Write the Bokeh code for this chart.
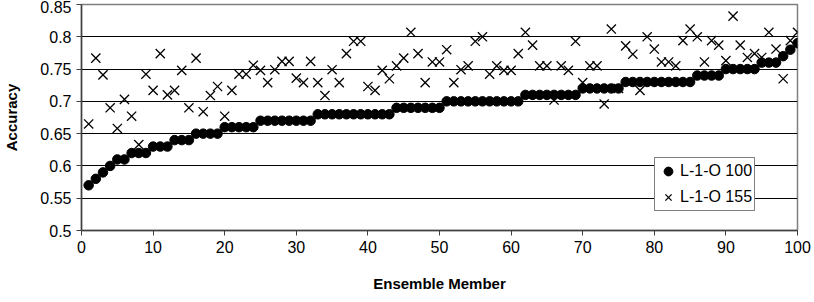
from bokeh.plotting import figure
from bokeh.models import Range1d, FixedTicker, Legend, LegendItem
from bokeh.embed import file_html
from bokeh.resources import INLINE

members = [i for i in range(1, 101)]

l1o_100 = [0.57, 0.58, 0.59, 0.60, 0.61, 0.61, 0.62, 0.62, 0.62, 0.63,
           0.63, 0.63, 0.64, 0.64, 0.64, 0.65, 0.65, 0.65, 0.65, 0.66,
           0.66, 0.66, 0.66, 0.66, 0.67, 0.67, 0.67, 0.67, 0.67, 0.67,
           0.67, 0.67, 0.68, 0.68, 0.68, 0.68, 0.68, 0.68, 0.68, 0.68,
           0.68, 0.68, 0.68, 0.69, 0.69, 0.69, 0.69, 0.69, 0.69, 0.69,
           0.70, 0.70, 0.70, 0.70, 0.70, 0.70, 0.70, 0.70, 0.70, 0.70,
           0.70, 0.71, 0.71, 0.71, 0.71, 0.71, 0.71, 0.71, 0.71, 0.72,
           0.72, 0.72, 0.72, 0.72, 0.72, 0.73, 0.73, 0.73, 0.73, 0.73,
           0.73, 0.73, 0.73, 0.73, 0.73, 0.74, 0.74, 0.74, 0.74, 0.75,
           0.75, 0.75, 0.75, 0.75, 0.76, 0.76, 0.76, 0.77, 0.78, 0.79]

l1o_155 = [0.665, 0.767, 0.741, 0.690, 0.658, 0.703, 0.677, 0.633, 0.742, 0.717,
           0.774, 0.710, 0.717, 0.748, 0.690, 0.767, 0.684, 0.709, 0.723, 0.677,
           0.717, 0.742, 0.742, 0.756, 0.748, 0.729, 0.749, 0.762, 0.762, 0.736,
           0.729, 0.762, 0.729, 0.709, 0.749, 0.729, 0.774, 0.793, 0.793, 0.723,
           0.717, 0.748, 0.735, 0.755, 0.767, 0.807, 0.774, 0.729, 0.761, 0.761,
           0.780, 0.729, 0.749, 0.755, 0.793, 0.800, 0.742, 0.755, 0.748, 0.748,
           0.774, 0.807, 0.787, 0.755, 0.755, 0.702, 0.755, 0.748, 0.793, 0.729,
           0.755, 0.755, 0.696, 0.812, 0.720, 0.786, 0.773, 0.717, 0.800, 0.781,
           0.761, 0.761, 0.755, 0.794, 0.812, 0.800, 0.761, 0.794, 0.787, 0.763,
           0.832, 0.787, 0.768, 0.774, 0.768, 0.807, 0.781, 0.735, 0.794, 0.807]

x_ticks = [0, 10, 20, 30, 40, 50, 60, 70, 80, 90, 100]
y_ticks = [0.5, 0.55, 0.6, 0.65, 0.7, 0.75, 0.8, 0.85]
y_tick_labels = ["0.5", "0.55", "0.6", "0.65", "0.7", "0.75", "0.8", "0.85"]

series_names = ["L-1-O 100", "L-1-O 155"]

FONT = "Liberation Sans"

p = figure(width=814, height=302, output_backend="svg", toolbar_location=None,
           x_range=Range1d(0, 100), y_range=Range1d(0.5, 0.85),
           min_border_left=80, min_border_right=17, min_border_top=4, min_border_bottom=72)

p.outline_line_color = "#808080"
p.outline_line_width = 1.5
p.background_fill_color = "white"
p.border_fill_color = "white"

p.xgrid.visible = False
p.ygrid.grid_line_color = "black"
p.ygrid.grid_line_width = 1
p.ygrid.ticker = FixedTicker(ticks=y_ticks)

p.xaxis.ticker = FixedTicker(ticks=x_ticks)
p.yaxis.ticker = FixedTicker(ticks=y_ticks)
p.yaxis.major_label_overrides = {t: s for t, s in zip(y_ticks, y_tick_labels)}
p.xaxis.major_label_overrides = {t: str(t) for t in x_ticks}

for ax in (p.xaxis, p.yaxis):
    ax.axis_line_color = "#404040"
    ax.axis_line_width = 1.5
    ax.major_tick_line_color = "#404040"
    ax.major_tick_out = 5
    ax.major_tick_in = 0
    ax.minor_tick_line_color = None
    ax.major_label_text_font = FONT
    ax.major_label_text_font_size = "16px"
    ax.major_label_text_color = "black"
    ax.axis_label_text_font = FONT
    ax.axis_label_text_font_size = "15px"
    ax.axis_label_text_font_style = "bold"
    ax.axis_label_text_color = "black"

p.xaxis.axis_label = "Ensemble Member"
p.yaxis.axis_label = "Accuracy"
p.xaxis.major_label_standoff = 5
p.xaxis.axis_label_standoff = 19
p.yaxis.major_label_standoff = 5
p.yaxis.axis_label_standoff = 17

r1 = p.scatter(members, l1o_100, marker="circle", size=9.5, fill_color="black", line_color="black")
r2 = p.scatter(members, l1o_155, marker="x", size=13, line_color="black", line_width=1.3)

legend = Legend(items=[LegendItem(label=series_names[0], renderers=[r1]),
                       LegendItem(label=series_names[1], renderers=[r2])],
                location=(573, 19))
legend.border_line_color = "black"
legend.border_line_width = 1
legend.background_fill_color = "white"
legend.background_fill_alpha = 1
legend.label_text_font = FONT
legend.label_text_font_size = "16px"
legend.label_text_color = "black"
legend.glyph_width = 22
legend.glyph_height = 22
legend.label_height = 22
legend.label_standoff = 1
legend.spacing = 4
legend.padding = 2
legend.margin = 0
p.add_layout(legend, "center")

open("out.html", "w").write(file_html(p, INLINE))
